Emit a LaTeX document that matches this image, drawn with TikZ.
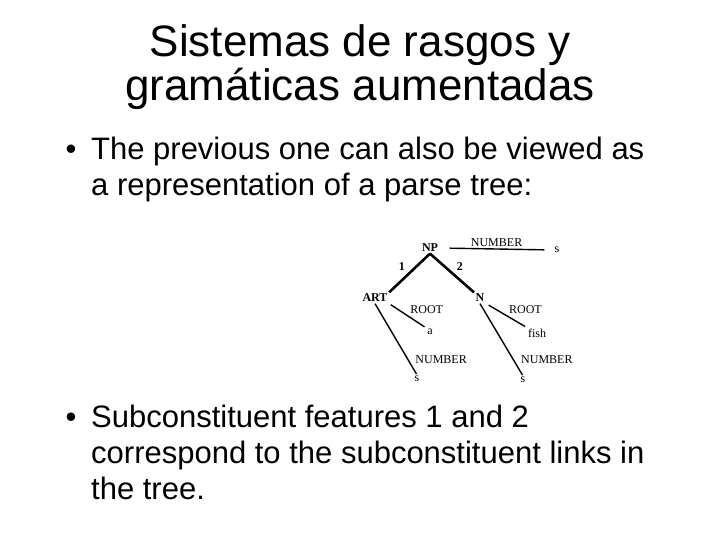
\documentclass[tikz,border=0pt]{standalone}
\usepackage{fontspec}
\setmainfont{Liberation Sans}
\newfontfamily\treefont{Liberation Serif}
\usetikzlibrary{positioning}
\tikzset{
  slidetitle/.style={font=\fontsize{44bp}{44bp}\selectfont, align=center, inner sep=0pt},
  dot/.style={font=\fontsize{31bp}{36bp}\selectfont, inner sep=0pt, anchor=base},
  para/.style={font=\fontsize{31bp}{36bp}\selectfont, align=left, inner sep=0pt, anchor=base west},
  cat/.style={font=\treefont\bfseries\fontsize{12bp}{13bp}\selectfont, inner sep=1.5pt},
  feat/.style={font=\treefont\fontsize{12bp}{13bp}\selectfont, inner sep=1pt},
  arc/.style={line width=2.6pt},
  link/.style={line width=1.4pt},
}

\begin{document}
\begin{tikzpicture}[x=1bp, y=-1bp]
    \useasboundingbox[fill=white] (0,0) rectangle (720,540);
    % title (base = last line)
    \node[slidetitle, anchor=base] (title) at (360,101) {Sistemas de rasgos y\\gramáticas aumentadas};
    % bullets
    \node[dot] (dot1) at (71,160) {•};
    \node[para] (txt1) at (91,196) {The previous one can also be viewed as\\a representation of a parse tree:};
    \node[dot] (dot2) at (71,427) {•};
    \node[para] (txt2) at (91,499) {Subconstituent features 1 and 2\\correspond to the subconstituent links in\\the tree.};
    % parse tree
    \node[cat] (np) at (430,248) {NP};
    \node[feat] (nps) at (557,250) {s};
    \node[cat] (art) at (375,298) {ART};
    \node[cat] (n) at (480,298) {N};
    \node[feat] (a) at (430,332) {a};
    \node[feat] (arts) at (417,379) {s};
    \node[feat] (fish) at (537,333) {fish};
    \node[feat] (ns) at (523,380) {s};
    \draw[link, shorten <=10bp, shorten >=9bp] (np.east) -- node[feat, above=1bp] (npnum) {NUMBER} (nps.west);
    \draw[arc] (np.south) -- node[cat, above left=0bp and 2bp] (one) {1} (art.north east);
    \draw[arc] (np.south) -- node[cat, above right=0bp and 2bp] (two) {2} (n.north west);
    \draw[link, shorten <=2bp, shorten >=2bp] (art.south east) -- node[feat, above right=0bp and 1bp] (artroot) {ROOT} (a.north west);
    \draw[link, shorten >=1bp] (art.south) -- node[feat, pos=0.78, right=6bp] (artnum) {NUMBER} (arts.north);
    \draw[link, shorten <=3bp, shorten >=2bp] (n.south east) -- node[feat, above right=0bp and 1bp] (nroot) {ROOT} (fish.north west);
    \draw[link, shorten >=1bp] (n.south) -- node[feat, pos=0.78, right=6bp] (nnum) {NUMBER} (ns.north);
\end{tikzpicture}
\end{document}
